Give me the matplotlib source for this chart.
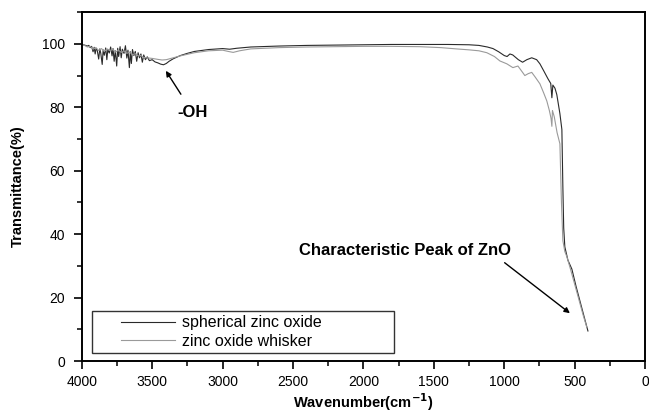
"""FTIR spectra of spherical zinc oxide and zinc oxide whisker"""

import matplotlib
matplotlib.use("Agg")
import matplotlib.pyplot as plt
from matplotlib.ticker import MultipleLocator
from matplotlib.legend_handler import HandlerLine2D

plt.rcParams["font.family"] = ["Liberation Sans", "DejaVu Sans"]

# spherical zinc oxide (dark curve)
wn_spherical = [
    4000, 3980, 3960, 3950, 3940, 3930, 3920, 3912, 3905, 3898, 3890, 3880,
    3872, 3865, 3855, 3848, 3840, 3830, 3822, 3815, 3805, 3795, 3785, 3778,
    3770, 3762, 3752, 3745, 3738, 3728, 3720, 3712, 3700, 3690, 3680, 3672,
    3662, 3655, 3648, 3640, 3630, 3620, 3610, 3600, 3590, 3580, 3570, 3560,
    3548, 3535, 3520, 3500, 3480, 3460, 3440, 3420, 3400, 3380, 3350, 3300,
    3250, 3200, 3100, 3000, 2950, 2900, 2800, 2600, 2400, 2200, 2000, 1800,
    1600, 1400, 1250, 1180, 1120, 1080, 1040, 1000, 980, 960, 940, 900,
    870, 840, 805, 770, 747, 720, 690, 670, 662, 655, 640, 627,
    605, 591, 584, 578, 570, 548, 520, 490, 463, 430, 406,
]
t_spherical = [
    99.8, 99.6, 99.3, 99.5, 98.8, 99.2, 97.5, 98.9, 96.8, 98.6, 97.9, 95.2,
    98.4, 97.0, 93.5, 98.1, 96.4, 98.7, 95.0, 98.2, 97.1, 99.0, 96.2, 98.5,
    94.5, 97.8, 93.0, 98.6, 96.0, 99.1, 95.6, 98.3, 97.0, 99.4, 95.5, 98.0,
    92.5, 97.5, 93.8, 98.2, 96.3, 97.6, 94.5, 97.2, 95.6, 96.8, 94.2, 96.5,
    95.0, 95.9, 94.7, 95.0, 94.3, 94.0, 93.6, 93.4, 93.8, 94.5, 95.3, 96.3,
    97.0, 97.6, 98.2, 98.5, 98.3, 98.6, 99.0, 99.3, 99.5, 99.6, 99.7, 99.8,
    99.8, 99.8, 99.7, 99.5, 99.0, 98.5, 97.5, 96.3, 96.0, 96.8, 96.5, 95.0,
    94.2, 95.0, 95.6, 95.0, 93.7, 91.5, 89.0, 87.5, 83.0, 87.0, 86.0, 84.0,
    78.0, 73.0, 55.0, 42.0, 36.0, 31.8, 29.0, 23.5, 19.0, 13.5, 9.5,
]

# zinc oxide whisker (light curve)
wn_whisker = [
    4000, 3980, 3960, 3940, 3920, 3900, 3880, 3860, 3840, 3820, 3800, 3780,
    3760, 3740, 3720, 3700, 3680, 3660, 3640, 3620, 3600, 3580, 3560, 3540,
    3500, 3460, 3430, 3400, 3350, 3300, 3200, 3100, 3000, 2960, 2925, 2880,
    2800, 2600, 2400, 2200, 2000, 1800, 1600, 1450, 1340, 1250, 1180, 1124,
    1070, 1031, 982, 939, 903, 870, 854, 830, 805, 780, 747, 720,
    698, 680, 668, 662, 658, 645, 625, 605, 594, 584, 570, 556,
    530, 480, 440, 414,
]
t_whisker = [
    99.8, 99.5, 99.0, 99.2, 98.3, 98.8, 97.9, 98.5, 97.6, 98.4, 97.9, 98.3,
    97.4, 98.0, 97.3, 97.8, 97.0, 97.4, 96.6, 96.9, 96.2, 96.3, 95.7, 95.6,
    95.4, 95.1, 94.9, 95.0, 95.6, 96.2, 97.2, 97.8, 98.0, 97.6, 97.3, 97.8,
    98.4, 98.8, 99.0, 99.1, 99.2, 99.2, 99.1, 98.8, 98.4, 98.1, 97.8, 97.2,
    96.0, 94.6, 93.7, 92.5, 93.0, 91.0, 90.0, 90.6, 91.0, 89.5, 87.4, 84.5,
    82.0, 79.0, 76.5, 74.0, 79.0, 77.0, 72.0, 68.5, 50.0, 38.0, 34.5, 33.0,
    29.0, 21.0, 14.5, 10.7,
]

x_ticks = [4000, 3500, 3000, 2500, 2000, 1500, 1000, 500, 0]
y_ticks = [0, 20, 40, 60, 80, 100]


class IndentedLine(HandlerLine2D):
    """legend line drawn with a gap on its left side"""

    def get_xdata(self, legend, xdescent, ydescent, width, height, fontsize):
        start = -xdescent + 1.55 * fontsize
        end = -xdescent + width
        return [start, end], [start, end]


fig = plt.figure(figsize=(6.49, 4.17), dpi=100)
ax = fig.add_axes([0.126, 0.134, 0.868, 0.837])

ax.plot(wn_spherical, t_spherical, color="#2a2a2a", linewidth=0.8,
        label="spherical zinc oxide")
ax.plot(wn_whisker, t_whisker, color="#9a9a9a", linewidth=0.8,
        label="zinc oxide whisker")

ax.set_xlim(4000, 0)
ax.set_ylim(0, 110)
ax.set_xticks(x_ticks)
ax.set_yticks(y_ticks)
ax.xaxis.set_minor_locator(MultipleLocator(250))
ax.yaxis.set_minor_locator(MultipleLocator(10))
ax.tick_params(which="major", direction="out", length=6, width=1.2,
               labelsize=10, top=False, right=False)
ax.tick_params(which="minor", direction="out", length=3.5, width=1.1,
               top=False, right=False)
ax.tick_params(axis="x", which="major", pad=4)
ax.tick_params(axis="y", which="major", pad=6)
for s in ax.spines.values():
    s.set_linewidth(1.4)

ax.set_xlabel("Wavenumber(cm$^{\\mathbf{-1}}$)", fontsize=10.5,
              fontweight="bold", labelpad=2)
ax.set_ylabel("Transmittance(%)", fontsize=10.5, fontweight="bold",
              labelpad=12)

# annotations
ax.annotate("-OH", xy=(3403, 91.5), xytext=(3212, 78.3), fontsize=12,
            fontweight="bold", ha="center", va="center",
            arrowprops=dict(arrowstyle="-|>", color="black", lw=1.0,
                            mutation_scale=8, shrinkA=7, shrinkB=0))
ax.annotate("Characteristic Peak of ZnO", xy=(534, 15.1), xytext=(1705, 34.8),
            fontsize=12, fontweight="bold", ha="center", va="center",
            arrowprops=dict(arrowstyle="-|>", color="black", lw=1.0,
                            mutation_scale=8, shrinkA=0, shrinkB=0,
                            relpos=(0.97, -0.3)))

handler = IndentedLine()
leg = ax.legend(loc="lower left", bbox_to_anchor=(0.018, 0.022, 0.536, 0.155),
                mode="expand", fontsize=11.5, frameon=True, fancybox=False,
                edgecolor="black", handlelength=4.9, handletextpad=0.45,
                borderpad=0.3, labelspacing=0.2, borderaxespad=0,
                handler_map={ln: handler for ln in ax.get_lines()})
leg.get_frame().set_linewidth(1.0)

plt.savefig("out.png", dpi=100)
plt.close()
